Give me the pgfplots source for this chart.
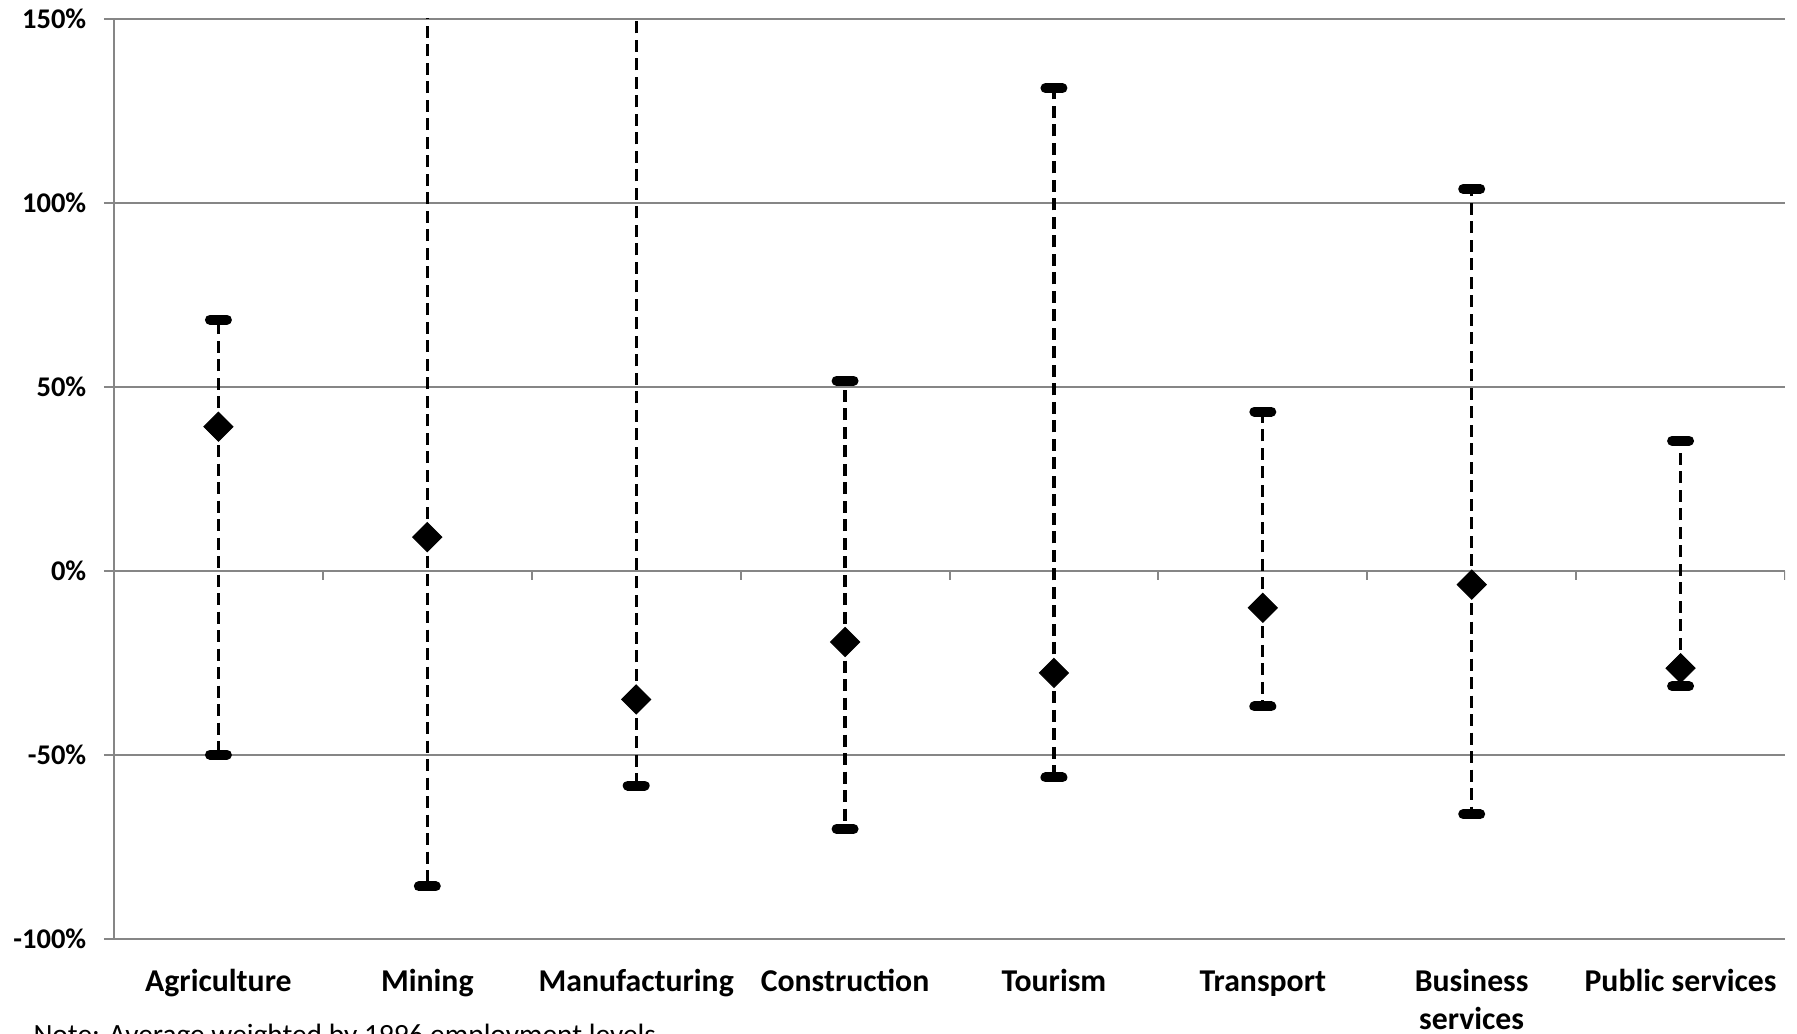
\documentclass[border=0pt]{standalone}
\usepackage{pgfplots}
\pgfplotsset{compat=1.18}
\usepackage{pgfplotstable}
\usepackage{fontspec}
\setmainfont{Carlito}
\definecolor{gridgray}{RGB}{134,134,134}

\pgfplotstableread{
x y hi lo
0 39.2 68.3 -49.9
1 9.2 200 -85.7
2 -34.9 200 -58.3
3 -19.3 51.7 -70.1
4 -27.7 131.2 -56.1
5 -10.0 43.3 -36.8
6 -3.7 103.8 -66.1
7 -26.4 35.4 -31.3
}\datatable

\begin{document}
\begin{tikzpicture}
\begin{axis}[
  at={(0,0)}, anchor=south west,
  scale only axis, width=668.4pt, height=368pt,
  xmin=-0.5, xmax=7.5, ymin=-100, ymax=150,
  ytick={-100,-50,0,50,100,150},
  yticklabels={-100\%,-50\%,0\%,50\%,100\%,150\%},
  yticklabel style={font=\fontsize{11.4}{13}\selectfont\bfseries, anchor=east, inner sep=0pt, xshift=-6.9pt},
  xtick={0,...,7},
  xticklabels={\strut Agriculture,\strut Mining,\strut Manufacturing,\strut Construction,\strut Tourism,\strut Transport,{\strut Business\\services},\strut Public services},
  xticklabel style={font=\fontsize{12.7}{15}\selectfont\bfseries, anchor=north, inner sep=0pt, align=center, yshift=-6.4pt},
  axis y line*=left, axis x line*=bottom,
  x axis line style={draw=none},
  xtick style={draw=none},
  ytick style={gridgray, line width=0.8pt},
  y axis line style={gridgray, line width=0.8pt},
  tick align=outside, major tick length=4pt,
  ymajorgrids, major grid style={gridgray, line width=0.8pt},
  clip=true,
]
\pgfplotsinvokeforeach{0.5,1.5,2.5,3.5,4.5,5.5,6.5,7.5}{
  \draw[gridgray, line width=0.8pt] (axis cs:#1,0) -- ++(0pt,-3.6pt);
}
% caps
\addplot[only marks, mark=-, mark size=3.4pt, mark options={line width=4pt, line cap=round, black},
  restrict y to domain=-100:150] table[x=x, y=hi] {\datatable};
\addplot[only marks, mark=-, mark size=3.4pt, mark options={line width=4pt, line cap=round, black},
  restrict y to domain=-100:150] table[x=x, y=lo] {\datatable};
% diamonds with dashed range
\addplot[only marks, mark=square*, mark size=4.1pt, mark options={rotate=45, black, fill=black},
  error bars/.cd, y dir=both, y explicit, error mark=none,
  error bar style={black, line width=1.3pt, dash pattern=on 4.8pt off 2.6pt}]
  table[x=x, y=y, y error plus expr=\thisrow{hi}-\thisrow{y}, y error minus expr=\thisrow{y}-\thisrow{lo}] {\datatable};
\end{axis}
\node[anchor=base west, inner sep=0pt, font=\fontsize{11.75}{14}\selectfont] at (-32.4pt,-42.4pt) {Note: Average weighted by 1996 employment levels};
\pgfresetboundingbox
\useasboundingbox (-45.6pt,-38pt) rectangle (673.2pt,375.6pt);
\end{tikzpicture}
\end{document}
